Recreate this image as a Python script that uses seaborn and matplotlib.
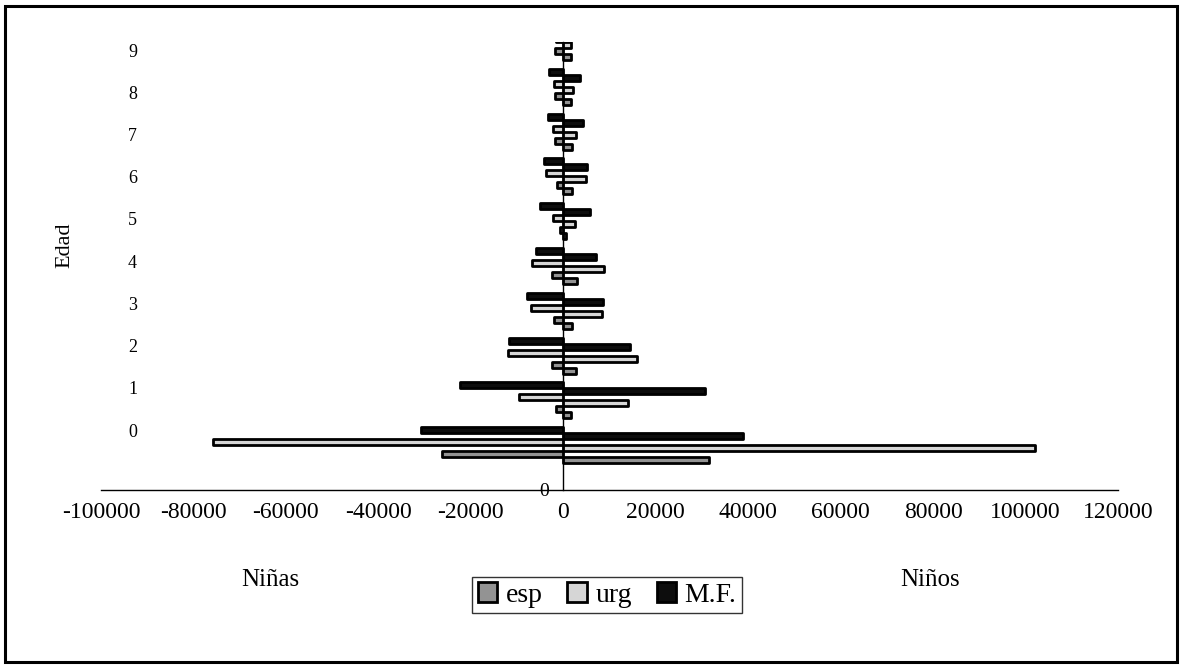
import seaborn as sns
import matplotlib.pyplot as plt
import pandas as pd
from matplotlib.patches import Patch, Rectangle

# datos
edades = ['0', '1', '2', '3', '4', '5', '6', '7', '8', '9']
esp_ninos = [31500, 1700, 2800, 1900, 3000, 500, 1800, 1900, 1700, 1600]
urg_ninos = [102000, 14000, 16000, 8400, 8900, 2600, 5000, 2700, 2200, 1700]
mf_ninos = [38900, 30700, 14500, 8600, 7100, 5700, 5100, 4200, 3600, 2500]
esp_ninas = [-26300, -1600, -2400, -1900, -2500, -600, -1400, -1700, -1700, -1700]
urg_ninas = [-75800, -9500, -11900, -6900, -6800, -2300, -3800, -2200, -1900, -1500]
mf_ninas = [-30700, -22300, -11700, -7800, -6000, -5000, -4100, -3400, -3000, -2000]
xticks = [-100000, -80000, -60000, -40000, -20000, 0, 20000, 40000, 60000, 80000, 100000, 120000]

series = {
    'M.F. f': mf_ninas, 'M.F. m': mf_ninos,
    'urg f': urg_ninas, 'urg m': urg_ninos,
    'esp f': esp_ninas, 'esp m': esp_ninos,
}
rows = []
for grupo, vals in series.items():
    for e, v in zip(edades, vals):
        rows.append({'Edad': e, 'valor': v, 'grupo': grupo})
df = pd.DataFrame(rows)

colores = {'esp': '#939393', 'urg': '#d6d6d6', 'M.F.': '#0d0d0d'}
paleta = {g: colores[g.split(' ')[0]] for g in series}

sns.set_theme(style='white')
plt.rcParams['font.family'] = ['Liberation Serif', 'DejaVu Serif']
plt.rcParams['text.color'] = 'black'
plt.rcParams['xtick.color'] = 'black'
plt.rcParams['ytick.color'] = 'black'

fig = plt.figure(figsize=(11.8, 6.66), dpi=100)
ax = fig.add_axes([101 / 1180, 1 - 490 / 666, (1118 - 101) / 1180, (490 - 42) / 666])

sns.barplot(data=df, x='valor', y='Edad', hue='grupo', orient='h',
            order=edades[::-1], hue_order=list(series.keys()), palette=paleta,
            dodge=True, width=0.8, edgecolor='black', linewidth=2.0,
            errorbar=None, legend=False, saturation=1, ax=ax)
for p in ax.patches:
    p.set_joinstyle('round')

ax.set_xlim(-100000, 120000)
ax.set_ylim(10.0, 0.0)
ax.set_xticks(xticks)
ax.set_xticklabels([str(t) for t in xticks])
ax.set_yticks([10.0])
ax.set_yticklabels(['0'])
ax.set_xlabel('')
ax.set_ylabel('')

for s in ['top', 'right']:
    ax.spines[s].set_visible(False)
ax.spines['left'].set_position(('data', 0))
for s in ['left', 'bottom']:
    ax.spines[s].set_color('black')
    ax.spines[s].set_linewidth(1.0)
ax.tick_params(axis='x', direction='out', length=7, width=1, color='black', pad=2,
               labelsize=17, labelcolor='black')
ax.tick_params(axis='y', direction='inout', length=10, width=1, color='black', pad=5,
               labelsize=14, labelcolor='black')

# etiquetas de edad a la izquierda
for i, e in enumerate(edades):
    ypos = (432 - 42.2 * i - 42) / 44.8
    ax.text(0.031, ypos, e, transform=ax.get_yaxis_transform(), ha='center', va='center',
            fontsize=13, color='black')

fig.text(65 / 1180, 1 - 245 / 666, 'Edad', rotation=90, ha='center', va='center', fontsize=16)
fig.text(270 / 1180, 1 - 580 / 666, 'Niñas', ha='center', va='center', fontsize=18)
fig.text(930 / 1180, 1 - 580 / 666, 'Niños', ha='center', va='center', fontsize=18)

handles = [Patch(facecolor=colores[k], edgecolor='black', linewidth=2.0, label=k)
           for k in ['esp', 'urg', 'M.F.']]
leg = fig.legend(handles=handles, loc='center', bbox_to_anchor=(607 / 1180, 1 - 595 / 666),
                 ncol=3, fontsize=20, frameon=True, fancybox=False, shadow=False,
                 handlelength=0.7, handleheight=0.7, handletextpad=0.3,
                 columnspacing=0.9, borderpad=0.2, borderaxespad=0)
leg.get_frame().set_edgecolor('black')
leg.get_frame().set_linewidth(1.0)

fig.patches.append(Rectangle((5 / 1180, 4 / 666), 1172 / 1180, 656 / 666,
                             transform=fig.transFigure, fill=False,
                             edgecolor='black', linewidth=2.2))

fig.savefig('out.png', dpi=100, facecolor='white')
